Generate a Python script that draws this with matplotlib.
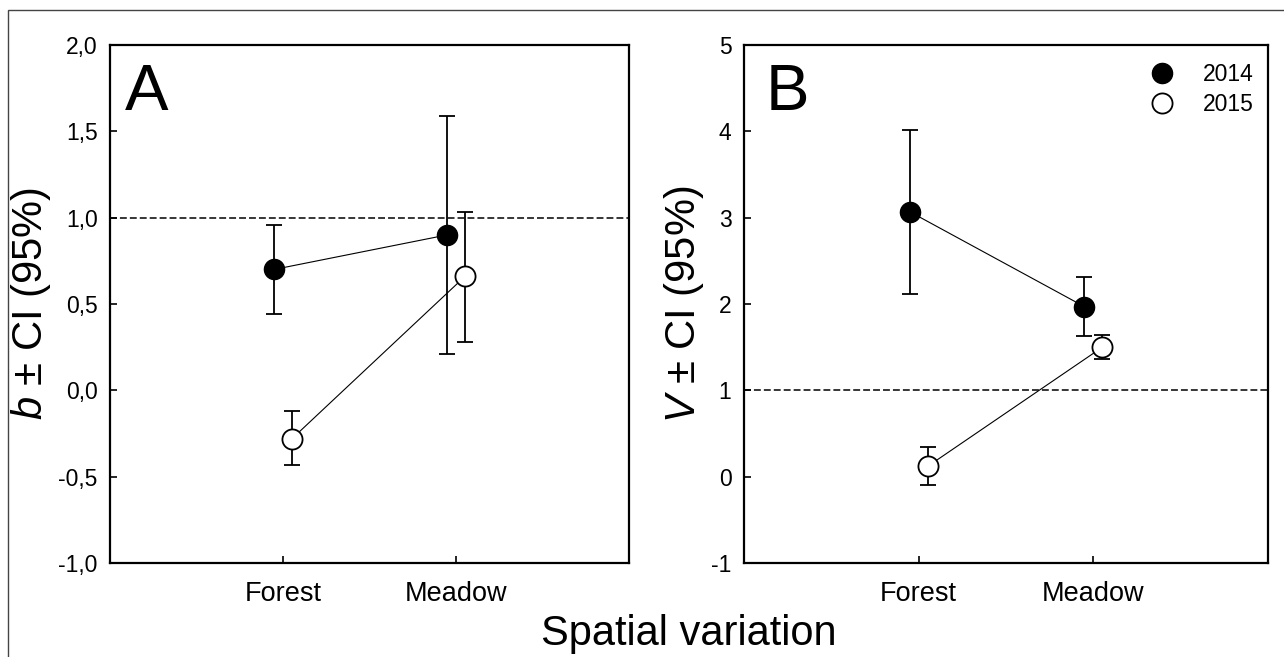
import matplotlib
matplotlib.use("Agg")
import matplotlib.pyplot as plt
from matplotlib.ticker import FuncFormatter, MultipleLocator
from matplotlib.patches import Rectangle
from matplotlib.lines import Line2D
import numpy as np

plt.rcParams['font.family'] = ['Liberation Sans', 'DejaVu Sans']
plt.rcParams['mathtext.fontset'] = 'custom'
plt.rcParams['mathtext.rm'] = 'Liberation Sans'
plt.rcParams['mathtext.it'] = 'Liberation Sans:italic'
plt.rcParams['axes.unicode_minus'] = False

# data
categories = ['Forest', 'Meadow']
years = ['2014', '2015']

b_2014 = [0.70, 0.90]
b_2014_lo = [0.44, 0.21]
b_2014_hi = [0.96, 1.59]
b_2015 = [-0.28, 0.66]
b_2015_lo = [-0.43, 0.28]
b_2015_hi = [-0.12, 1.03]

V_2014 = [3.07, 1.97]
V_2014_lo = [2.12, 1.63]
V_2014_hi = [4.02, 2.31]
V_2015 = [0.12, 1.50]
V_2015_lo = [-0.10, 1.36]
V_2015_hi = [0.34, 1.64]

x = np.arange(1, len(categories) + 1)
dx = 0.052

fig = plt.figure(figsize=(12.84, 6.57), dpi=100)
axA = fig.add_axes([110/1284, 94/657, 519/1284, 518/657])
axB = fig.add_axes([744/1284, 94/657, 524/1284, 518/657])

# outer frame (only top and left edges visible in the crop)
fig.patches.append(Rectangle((8/1284, -0.1), 1.2, 1 - 10/657 + 0.1, transform=fig.transFigure,
                             fill=False, edgecolor='#444444', lw=1.0, clip_on=False))


def draw(ax, y1, lo1, hi1, y2, lo2, hi2):
    y1, lo1, hi1 = np.array(y1), np.array(lo1), np.array(hi1)
    y2, lo2, hi2 = np.array(y2), np.array(lo2), np.array(hi2)
    ax.axhline(1, color='black', lw=1.1, ls=(0, (4.5, 2)), zorder=1)
    ax.errorbar(x - dx, y1, yerr=[y1 - lo1, hi1 - y1], fmt='-o', color='black', lw=0.8,
                elinewidth=1.3, capsize=6, capthick=1.3, ms=14.5, mfc='black', mec='black',
                zorder=3)
    ax.errorbar(x + dx, y2, yerr=[y2 - lo2, hi2 - y2], fmt='-o', color='black', lw=0.8,
                elinewidth=1.3, capsize=6, capthick=1.3, ms=14.5, mfc='white', mec='black',
                mew=1.3, zorder=3)
    ax.set_xlim(0, 3)
    ax.set_xticks(x)
    ax.set_xticklabels(categories, fontsize=19.5)
    for s in ax.spines.values():
        s.set_linewidth(1.6)
    ax.tick_params(axis='both', direction='in', length=5, width=1.2, top=False, right=False)
    ax.tick_params(axis='y', labelsize=16.5, pad=9)
    ax.tick_params(axis='x', pad=13)


draw(axA, b_2014, b_2014_lo, b_2014_hi, b_2015, b_2015_lo, b_2015_hi)
axA.set_ylim(-1, 2)
axA.yaxis.set_major_locator(MultipleLocator(0.5))
axA.yaxis.set_major_formatter(FuncFormatter(lambda v, p: f"{v:.1f}".replace('.', ',')))
axA.set_ylabel(r"$\mathit{b}$ ± CI (95%)", fontsize=30, labelpad=4)
axA.text(0.028, 0.965, 'A', transform=axA.transAxes, fontsize=47, va='top', ha='left')

draw(axB, V_2014, V_2014_lo, V_2014_hi, V_2015, V_2015_lo, V_2015_hi)
axB.set_ylim(-1, 5)
axB.yaxis.set_major_locator(MultipleLocator(1))
axB.yaxis.set_major_formatter(FuncFormatter(lambda v, p: f"{v:.0f}"))
axB.set_ylabel(r"$\mathit{V}$ ± CI (95%)", fontsize=30, labelpad=4)
axB.text(0.042, 0.965, 'B', transform=axB.transAxes, fontsize=47, va='top', ha='left')

handles = [Line2D([], [], ls='none', marker='o', ms=14.5, mfc='black', mec='black'),
           Line2D([], [], ls='none', marker='o', ms=14.5, mfc='white', mec='black', mew=1.3)]
axB.legend(handles, years, loc='upper right', bbox_to_anchor=(1.013, 1.005),
           frameon=False, fontsize=16.5, handlelength=1.0, handletextpad=1.3,
           labelspacing=0.3, numpoints=1)

fig.text(689/1284, 12/657, 'Spatial variation', fontsize=30, ha='center', va='baseline')

fig.savefig('out.png', dpi=100)
